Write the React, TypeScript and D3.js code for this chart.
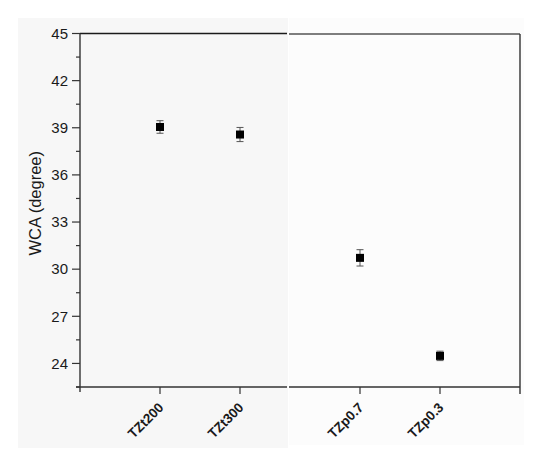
import React from "react";
import * as d3 from "d3";

const categories = ["TZt200", "TZt300", "TZp0.7", "TZp0.3"];
const catPositions = [1, 2, 3.5, 4.5];
const wcaValues = [39.05, 38.57, 30.72, 24.48];
const wcaErrors = [0.4, 0.45, 0.52, 0.3];
const yTicks = [24, 27, 30, 33, 36, 39, 42, 45];
const yMinorTicks = [22.5, 25.5, 28.5, 31.5, 34.5, 37.5, 40.5, 43.5];

const W = 550;
const H = 461;
const left = 80;
const right = 520;
const top = 33.5;
const bottom = 387;
const split = 288;

export default function App() {
  const x = d3.scaleLinear().domain([0, 5.5]).range([left, right]);
  const y = d3.scaleLinear().domain([22.5, 45]).range([bottom, top]);
  const font = "Arial, 'Liberation Sans', sans-serif";

  return (
    <svg width={W} height={H} style={{ position: "absolute", left: 0, top: 0 }}>
      <rect x={0} y={0} width={W} height={H} fill="#ffffff" />
      <rect x={18} y={18} width={split - 18} height={430} fill="#f7f7f7" />
      <rect x={split + 1} y={18} width={524 - split - 1} height={427} fill="#fcfcfc" />

      {/* top borders */}
      <line x1={left} x2={split - 1} y1={top} y2={top} stroke="#1a1a1a" strokeWidth={1.6} />
      <line x1={split + 1} x2={right} y1={top + 0.5} y2={top + 0.5} stroke="#555" strokeWidth={1.4} />
      {/* right border */}
      <line x1={right} x2={right} y1={top + 0.5} y2={bottom + 7} stroke="#333" strokeWidth={1.4} />
      {/* y axis */}
      <line x1={left} x2={left} y1={top} y2={bottom + 5} stroke="#333" strokeWidth={1.4} />
      {/* bottom axis */}
      <line x1={left - 4} x2={split - 1} y1={bottom} y2={bottom} stroke="#333" strokeWidth={1.4} />
      <line x1={split + 1} x2={right} y1={bottom} y2={bottom} stroke="#333" strokeWidth={1.4} />

      {yTicks.map((t) => (
        <g key={"yt" + t}>
          <line x1={left - 8} x2={left} y1={y(t)} y2={y(t)} stroke="#333" strokeWidth={1.2} />
          <text x={left - 12} y={y(t)} dy="0.35em" textAnchor="end" fontFamily={font} fontSize={15} fill="#1a1a1a">
            {t}
          </text>
        </g>
      ))}
      {yMinorTicks.map((t) => (
        <line key={"ym" + t} x1={left - 4} x2={left} y1={y(t)} y2={y(t)} stroke="#333" strokeWidth={1.2} />
      ))}

      {catPositions.map((p, i) => (
        <g key={"xt" + i}>
          <line x1={x(p)} x2={x(p)} y1={bottom} y2={bottom + 7} stroke="#333" strokeWidth={1.2} />
          <text
            transform={`translate(${x(p) + 1},${bottom + 18}) rotate(-45)`}
            textAnchor="end"
            dy="0.35em"
            fontFamily={font}
            fontWeight="bold"
            fontSize={13.5}
            fill="#1a1a1a"
          >
            {categories[i]}
          </text>
        </g>
      ))}

      <text
        transform={`translate(41,${(top + bottom) / 2 - 7}) rotate(-90)`}
        textAnchor="middle"
        fontFamily={font}
        fontSize={16.5}
        fill="#1a1a1a"
      >
        WCA (degree)
      </text>

      {catPositions.map((p, i) => {
        const cx = x(p);
        const cy = y(wcaValues[i]);
        const y1 = y(wcaValues[i] + wcaErrors[i]);
        const y2 = y(wcaValues[i] - wcaErrors[i]);
        return (
          <g key={"pt" + i}>
            <line x1={cx} x2={cx} y1={y1} y2={y2} stroke="#555" strokeWidth={1} />
            <line x1={cx - 3.5} x2={cx + 3.5} y1={y1} y2={y1} stroke="#555" strokeWidth={1} />
            <line x1={cx - 3.5} x2={cx + 3.5} y1={y2} y2={y2} stroke="#555" strokeWidth={1} />
            <rect x={cx - 4} y={cy - 4} width={8} height={8} fill="#000" />
          </g>
        );
      })}
    </svg>
  );
}
